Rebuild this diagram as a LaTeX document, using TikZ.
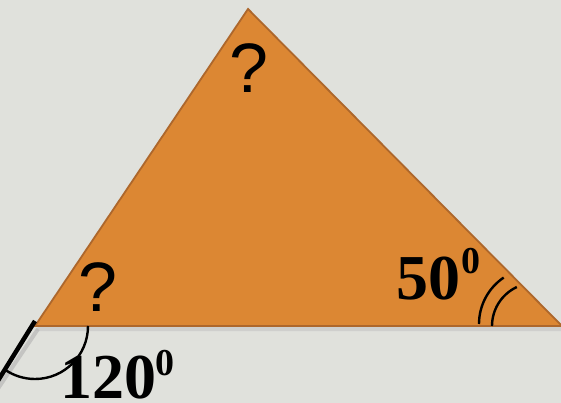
\documentclass[tikz,border=0pt]{standalone}
\usepackage{fontspec}
\usetikzlibrary{calc}
\setmainfont{Liberation Serif}
\newfontfamily\qfont{Liberation Sans}
\definecolor{bg}{HTML}{E0E1DC}
\definecolor{tri}{HTML}{DC8733}
\definecolor{edge}{HTML}{AD672C}
\tikzset{
  qmark/.style={inner sep=0pt, anchor=base, font=\qfont\fontsize{70}{70}\selectfont},
  deg/.style={inner sep=0pt, anchor=base west, font=\bfseries\fontsize{64}{64}\selectfont},
  sup/.style={inner sep=0pt, anchor=base west, font=\bfseries\fontsize{38}{38}\selectfont},
  mark line/.style={black, line width=2.4pt},
}
\begin{document}
\begin{tikzpicture}[x=1pt,y=-1pt]
\fill[bg] (0,0) rectangle (561,403);
\useasboundingbox (0,0) rectangle (561,403);
\coordinate (A) at (248,9);
\coordinate (B) at (35,326);
\coordinate (C) at (562,326);
% shadow
\fill[black!25, opacity=0.5] (38,327) -- (562,327) -- (562,331) -- (35,331) -- cycle;
\filldraw[fill=tri, draw=edge, line width=1.8pt, line join=miter] (A) -- (B) -- (C) -- cycle;
% extension line
\coordinate (E) at ($(B)!-0.19!(A)$);
\draw[black!30, line width=4pt, opacity=0.6] ([xshift=3pt,yshift=-3pt]B) -- ([xshift=3pt,yshift=-3pt]E);
\draw[black, line width=4.5pt] ([yshift=5pt]B) -- (E);
% exterior angle arc
\draw[mark line] (88,326) arc[start angle=0, end angle=124, radius=53];
% double arc at right angle
\draw[mark line] (492,326) arc[start angle=180, end angle=245, radius=43];
\draw[mark line] (479,324) arc[start angle=180, end angle=236, radius=56];
% texts
\node[qmark] (q1) at (249,93) {?};
\node[qmark] (q2) at (98,311) {?};
\node[deg] (t50) at (396,299) {50};
\node[sup] (s50) at (461,273) {0};
\node[deg] (t120) at (60,398) {120};
\node[sup] (s120) at (155,375) {0};
\end{tikzpicture}
\end{document}
